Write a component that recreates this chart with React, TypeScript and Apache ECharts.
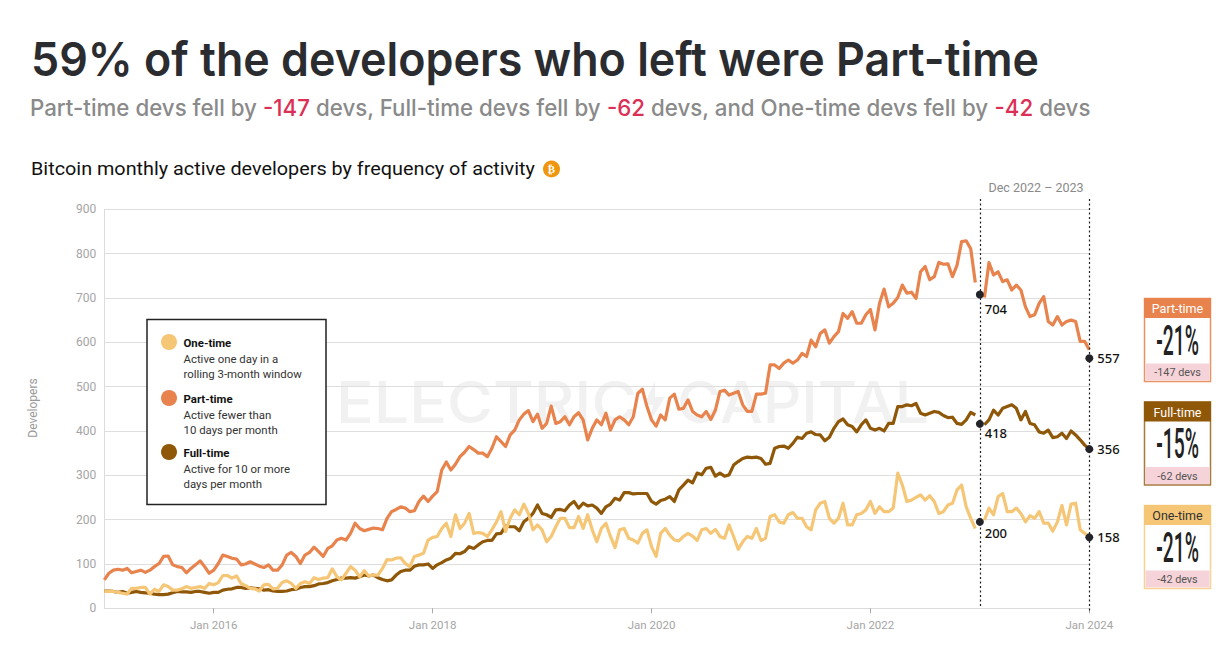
import React, { useEffect, useRef } from "react";
import * as echarts from "echarts";

const MONTHS = ["Jan","Feb","Mar","Apr","May","Jun","Jul","Aug","Sep","Oct","Nov","Dec"];
const categories: string[] = [];
for (let y = 2015; y < 2024; y++) for (const m of MONTHS) { categories.push(`${m} ${y}`); categories.push(`${m} ${y} H2`); }
categories.push("Jan 2024");
const tickLabels = ["Jan 2016","Jan 2018","Jan 2020","Jan 2022","Jan 2024"];
const yTicks = [0,100,200,300,400,500,600,700,800,900];

const partTime: (number|null)[] = [
64,79,86,88,86,90,80,83,86,81,86,94,101,117,118,98,94,92,80,90,
98,107,94,79,86,101,120,117,113,111,98,100,105,100,95,92,98,86,86,98,
120,126,117,101,120,126,138,128,117,135,141,154,158,154,169,192,180,175,178,181,
180,177,203,218,223,229,226,218,220,241,253,241,253,263,312,330,312,325,342,352,
365,358,350,
350,342,361,387,376,365,391,402,425,438,446,421,438,406,417,456,417,421,432,414,
432,441,425,380,406,425,414,440,402,425,432,425,414,432,485,494,455,425,411,436,
425,474,483,449,451,470,444,436,432,444,426,447,489,492,481,485,489,459,444,444,
483,483,485,549,549,541,553,560,553,560,575,568,605,590,620,628,598,613,624,665,
654,669,643,643,662,674,628,
688,720,680,688,701,729,711,713,699,759,771,741,748,780,776,777,748,774,827,829,811,735,null,
701,780,752,759,737,741,718,729,718,680,658,662,688,703,647,639,658,639,647,650,647,602,602,583];

const fullTime: (number|null)[] = [
39,39,38,36,38,34,36,38,36,35,34,32,31,31,32,35,38,37,37,36,
38,38,36,34,36,36,41,43,44,47,47,45,46,45,44,41,42,39,38,38,
39,42,43,47,49,49,51,55,56,58,62,65,68,68,69,68,71,75,73,75,
69,65,62,64,75,83,86,86,95,98,98,100,90,98,103,109,113,124,123,128,
139,135,143,
150,153,153,168,169,186,184,184,175,195,203,214,233,214,211,205,222,223,220,
233,241,226,237,231,233,226,214,229,235,248,244,261,261,258,259,259,259,241,235,
243,246,252,241,267,278,289,283,305,301,316,318,298,305,298,301,323,331,338,341,
340,341,338,325,327,361,365,366,361,372,386,383,395,398,392,391,378,386,406,421,
427,414,410,398,414,425,406,402,
406,400,417,417,455,455,459,457,462,440,436,440,444,442,435,430,431,417,415,425,442,436,null,
414,425,447,436,451,455,459,451,425,444,417,414,398,395,402,385,387,395,383,400,391,380,368,359];

const oneTime: (number|null)[] = [
38,38,38,36,34,32,45,45,47,47,32,43,38,53,49,41,41,44,49,45,
47,49,45,56,53,58,74,74,68,73,56,51,45,44,39,53,54,44,45,58,
62,56,45,56,60,56,69,65,68,69,89,71,64,79,94,86,71,85,73,75,
75,90,110,109,113,114,101,94,117,120,124,154,160,162,180,192,162,211,180,192,
214,169,171,
169,162,177,195,218,173,203,222,211,235,214,177,188,177,150,162,184,203,203,
182,182,207,180,211,177,150,180,192,162,137,177,180,158,154,147,169,177,139,117,
169,180,165,154,152,162,169,163,153,177,180,169,178,162,158,188,162,133,150,162,
158,180,153,158,207,211,195,192,211,216,203,203,184,177,222,237,241,203,192,203,
237,188,188,211,214,222,241,214,
229,218,218,226,305,278,241,244,250,256,244,254,241,214,218,233,237,267,278,229,203,180,null,
199,226,211,252,259,218,218,226,214,195,209,203,218,192,192,174,195,232,188,235,237,177,169,162];

const DOT_INDEX_START = 192;
const DOT_INDEX_END = 216;
const dotValues = [708, 564, 416, 359, 195, 160];
const dotLabels = ["704", "557", "418", "356", "200", "158"];
const dotIndexes = [DOT_INDEX_START, DOT_INDEX_END, DOT_INDEX_START, DOT_INDEX_END, DOT_INDEX_START, DOT_INDEX_END];
const dotLabelDy = [4, 0, -1, 0, 1, 0];

const C_ONE = "#f6c677";
const C_PART = "#e8834d";
const C_FULL = "#8f5708";
const DIN = "Roboto, 'Noto Sans', sans-serif";

const legendItems = [
  { c: C_ONE, t: "One-time", a: "Active one day in a", b: "rolling 3-month window", y: 342 },
  { c: C_PART, t: "Part-time", a: "Active fewer than", b: "10 days per month", y: 398 },
  { c: C_FULL, t: "Full-time", a: "Active for 10 or more", b: "days per month", y: 452 },
];
const kpis = [
  { t: "Part-time", p: "-21%", d: "-147 devs", y: 298.5, c: C_PART, tc: "#ffffff", bc: "#eb9263" },
  { t: "Full-time", p: "-15%", d: "-62 devs", y: 402, c: C_FULL, tc: "#ffffff", bc: "#a87a3c" },
  { t: "One-time", p: "-21%", d: "-42 devs", y: 505.5, c: C_ONE, tc: "#333333", bc: "#f8d294" },
];

const txt = (x: number, y: number, text: string, size: number, fill: string, extra: any = {}, sx: any = {}) => ({
  type: "text", x, y, silent: true, ...extra,
  style: { text, fontSize: size, fill, fontFamily: DIN, verticalAlign: "middle", ...sx },
});

export default function App() {
  const ref = useRef<HTMLDivElement>(null);
  useEffect(() => {
    const chart = echarts.init(ref.current!, undefined, { renderer: "svg" });
    const graphic: any[] = [
      txt(31, 59, "59% of the developers who left were Part-time", 47, "#2b2c30", { scaleX: 0.953 }, { fontFamily: "Inter", fontWeight: 600 }),
      txt(30, 107.5, "{g|Part-time devs fell by }{r|-147}{g| devs, Full-time devs fell by }{r|-62}{g| devs, and One-time devs fell by }{r|-42}{g| devs}", 23, "#8a8a8a", { scaleX: 0.97 }, {
        fontFamily: "Inter", fontWeight: 500,
        rich: {
          g: { fontFamily: "Inter", fontWeight: 500, fontSize: 23, fill: "#8a8a8a", color: "#8a8a8a" },
          r: { fontFamily: "Inter", fontWeight: 500, fontSize: 23, fill: "#dc2f55", color: "#dc2f55" },
        },
      }),
      txt(31, 168.5, "Bitcoin monthly active developers by frequency of activity", 19, "#111111", { scaleX: 1.043 }),
      { type: "circle", silent: true, shape: { cx: 551.5, cy: 169, r: 8.5 }, style: { fill: "#f0960e" } },
      txt(551.5, 169.5, "₿", 11, "#ffffff", {}, { align: "center", fontWeight: 700, fontFamily: "'DejaVu Sans'" }),
      txt(1036, 187, "Dec 2022 – 2023", 12.5, "#8a8a8a", {}, { align: "center" }),
      txt(33, 408, "Developers", 12, "#999999", { rotation: Math.PI / 2 }, { align: "center" }),
      txt(336, 402, "ELECTRIC", 58, "#f1f1f1", { z: -1, scaleX: 1.08 }, { fontFamily: "Inter", fontWeight: 500 }),
      txt(677, 402, "CAPITAL", 58, "#f1f1f1", { z: -1, scaleX: 1.04 }, { fontFamily: "Inter", fontWeight: 500 }),
      { type: "polygon", z: -1, silent: true, shape: { points: [[655, 381], [644, 405], [653, 405], [649, 423], [665, 397], [655, 397]] }, style: { fill: "#f1f1f1" } },
      { type: "rect", z: 10, silent: true, shape: { x: 147, y: 319.5, width: 179, height: 185 }, style: { fill: "#ffffff", stroke: "#222222", lineWidth: 1.5 } },
    ];
    for (const l of legendItems) {
      graphic.push({ type: "circle", z: 11, silent: true, shape: { cx: 169, cy: l.y, r: 8 }, style: { fill: l.c } });
      graphic.push(txt(183.5, l.y + 1, l.t, 11.4, "#111111", { z: 11 }, { fontWeight: 700 }));
      graphic.push(txt(183.5, l.y + 16.5, l.a, 11.4, "#333333", { z: 11 }));
      graphic.push(txt(183.5, l.y + 31.5, l.b, 11.4, "#333333", { z: 11 }));
    }
    for (const k of kpis) {
      graphic.push({ type: "rect", silent: true, shape: { x: 1144.5, y: k.y, width: 66, height: 83 }, style: { fill: "#ffffff", stroke: k.bc, lineWidth: 1.5 } });
      graphic.push({ type: "rect", silent: true, shape: { x: 1144, y: k.y - 0.5, width: 67, height: 20 }, style: { fill: k.c } });
      graphic.push({ type: "rect", silent: true, shape: { x: 1145.5, y: k.y + 65, width: 64, height: 17 }, style: { fill: "#f6d3d8" } });
      graphic.push(txt(1177.5, k.y + 10, k.t, 12.5, k.tc, {}, { align: "center" }));
      graphic.push(txt(1177.5, k.y + 42, k.p, 42, "#222222", { scaleX: 0.46 }, { align: "center", fontWeight: 500 }));
      graphic.push(txt(1177.5, k.y + 74, k.d, 10.8, "#555555", {}, { align: "center" }));
    }

    const line = (name: string, data: any[], color: string, extra: any = {}) => ({
      name, type: "line", data, showSymbol: false, symbol: "none", connectNulls: false,
      lineStyle: { color, width: 3.2, join: "round" }, itemStyle: { color }, silent: true, ...extra,
    });
    const vLine = (i: number, yEnd: number) => [
      { xAxis: categories[i], y: 199 },
      { xAxis: categories[i], y: yEnd },
    ];

    chart.setOption({
      animation: false,
      backgroundColor: "#ffffff",
      graphic: { elements: graphic },
      grid: { left: 104.3, right: 1232 - 1089.3, top: 209.3, bottom: 659 - 608.3, containLabel: false },
      xAxis: {
        type: "category", data: categories, boundaryGap: false,
        axisLine: { show: true, lineStyle: { color: "#dcdcdc", width: 1 } },
        axisTick: { show: true, length: 5, lineStyle: { color: "#aaaaaa" }, interval: (_: number, v: string) => tickLabels.includes(v) },
        axisLabel: { color: "#a5a5a5", fontSize: 11.5, fontFamily: DIN, margin: 11, interval: (_: number, v: string) => tickLabels.includes(v), showMaxLabel: true },
        splitLine: { show: false },
      },
      yAxis: {
        type: "value", min: 0, max: 900, interval: 100,
        axisLine: { show: true, lineStyle: { color: "#dcdcdc", width: 1 } },
        axisTick: { show: false },
        axisLabel: { color: "#a5a5a5", fontSize: 12, fontFamily: DIN, margin: 8, padding: [0, 0, 4, 0], formatter: (v: number) => yTicks.includes(v) ? String(v) : "" },
        splitLine: { show: true, lineStyle: { color: "#dedede", width: 1 } },
      },
      series: [
        line("Part-time", partTime, C_PART),
        line("Full-time", fullTime, C_FULL),
        line("One-time", oneTime, C_ONE, {
          markLine: {
            silent: true, symbol: "none", animation: false, label: { show: false },
            lineStyle: { color: "#222222", width: 1.2, type: [2, 2.5] },
            data: [vLine(DOT_INDEX_START, 608.3), vLine(DOT_INDEX_END, 612)],
          },
        }),
        {
          name: "Endpoints", type: "scatter", symbol: "circle", symbolSize: 8, silent: true, z: 6,
          itemStyle: { color: "#23242a", opacity: 1 },
          label: { show: true, color: "#111111", fontFamily: "'Noto Sans'", fontSize: 13, fontWeight: 500 },
          data: dotValues.map((v, i) => ({
            value: [categories[dotIndexes[i]], v],
            label: dotIndexes[i] === DOT_INDEX_START
              ? { position: "bottom", distance: 0, offset: [16, dotLabelDy[i]], formatter: dotLabels[i] }
              : { position: "right", distance: 4, formatter: dotLabels[i] },
          })),
        },
      ],
    });
    return () => chart.dispose();
  }, []);
  return <div ref={ref} style={{ position: "fixed", left: 0, top: 0, width: 1232, height: 659, background: "#fff" }} />;
}
